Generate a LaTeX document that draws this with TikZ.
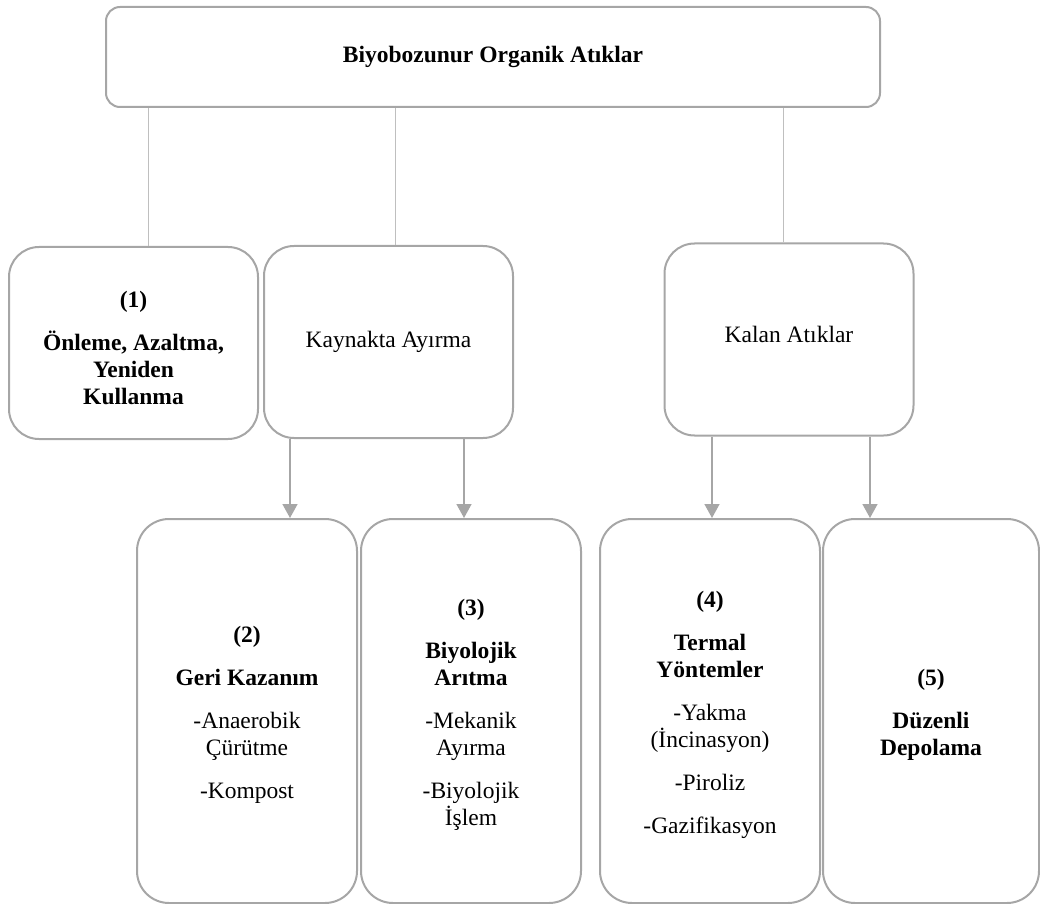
\documentclass[tikz,border=0pt]{standalone}
\usepackage{fontspec}
\setmainfont{Liberation Serif}
\usetikzlibrary{arrows.meta}
\definecolor{boxgray}{HTML}{A6A6A6}
\definecolor{linegray}{HTML}{BFBFBF}

\begin{document}
\begin{tikzpicture}
  [x=0.5pt,y=-0.5pt,
   every node/.style={draw=boxgray,line width=1pt,align=center,inner sep=0pt,
     font=\fontsize{11.75pt}{13.5pt}\selectfont},
   bold/.style={font=\fontsize{11.75pt}{13.5pt}\selectfont\bfseries},
   head/.style={minimum width=387pt,minimum height=50pt,rounded corners=7pt},
   mid/.style={minimum width=124.5pt,minimum height=96pt,rounded corners=15pt},
   low/.style={minimum width=110pt,minimum height=192pt,rounded corners=16pt},
   link/.style={draw=linegray,line width=0.5pt},
   flow/.style={draw=boxgray,line width=0.75pt,-{Triangle[width=7.5pt,length=7pt]}}]

  \useasboundingbox (0,0) rectangle (1040,904);

  \node[head,bold] (top) at (493,57) {Biyobozunur Organik Atıklar};

  \node[mid,bold] (onl) at (133.5,343) {\rule{0pt}{13pt}(1)\\[8pt]Önleme, Azaltma,\\Yeniden\\Kullanma};
  \node[mid] (kay) at (388.5,342) {Kaynakta Ayırma};
  \node[mid] (kal) at (789,339.5) {Kalan Atıklar\rule[-5pt]{0pt}{5pt}};

  \node[low,bold] (geri) at (247,711) {\rule{0pt}{12pt}(2)\\[8pt]Geri Kazanım\\[8pt]
    \mdseries -Anaerobik\\\mdseries Çürütme\\[8pt]\mdseries -Kompost};
  \node[low,bold] (bio) at (471,711) {\rule{0pt}{12pt}(3)\\[8pt]Biyolojik\\Arıtma\\[8pt]
    \mdseries -Mekanik\\\mdseries Ayırma\\[8pt]\mdseries -Biyolojik\\\mdseries İşlem};
  \node[low,bold] (term) at (710,711) {\rule{0pt}{12pt}(4)\\[8pt]Termal\\Yöntemler\\[8pt]
    \mdseries -Yakma\\\mdseries (İncinasyon)\\[8pt]\mdseries -Piroliz\\[8pt]\mdseries -Gazifikasyon};
  \node[low,bold,minimum width=108pt] (depo) at (931,711) {\rule{0pt}{12pt}(5)\\[8pt]Düzenli\\Depolama};

  % x positions of the connectors
  \coordinate (x1) at (148,0);
  \coordinate (x2) at (395,0);
  \coordinate (x3) at (783,0);
  \coordinate (x4) at (290,0);
  \coordinate (x5) at (464,0);
  \coordinate (x6) at (712,0);
  \coordinate (x7) at (870,0);

  \foreach \to/\x in {onl/x1,kay/x2,kal/x3}
    \draw[link] (top.south -| \x) -- (\to.north -| \x);

  \foreach \from/\to/\x in {kay/geri/x4,kay/bio/x5,kal/term/x6,kal/depo/x7}
    \draw[flow] (\from.south -| \x) -- (\to.north -| \x);
\end{tikzpicture}
\end{document}
